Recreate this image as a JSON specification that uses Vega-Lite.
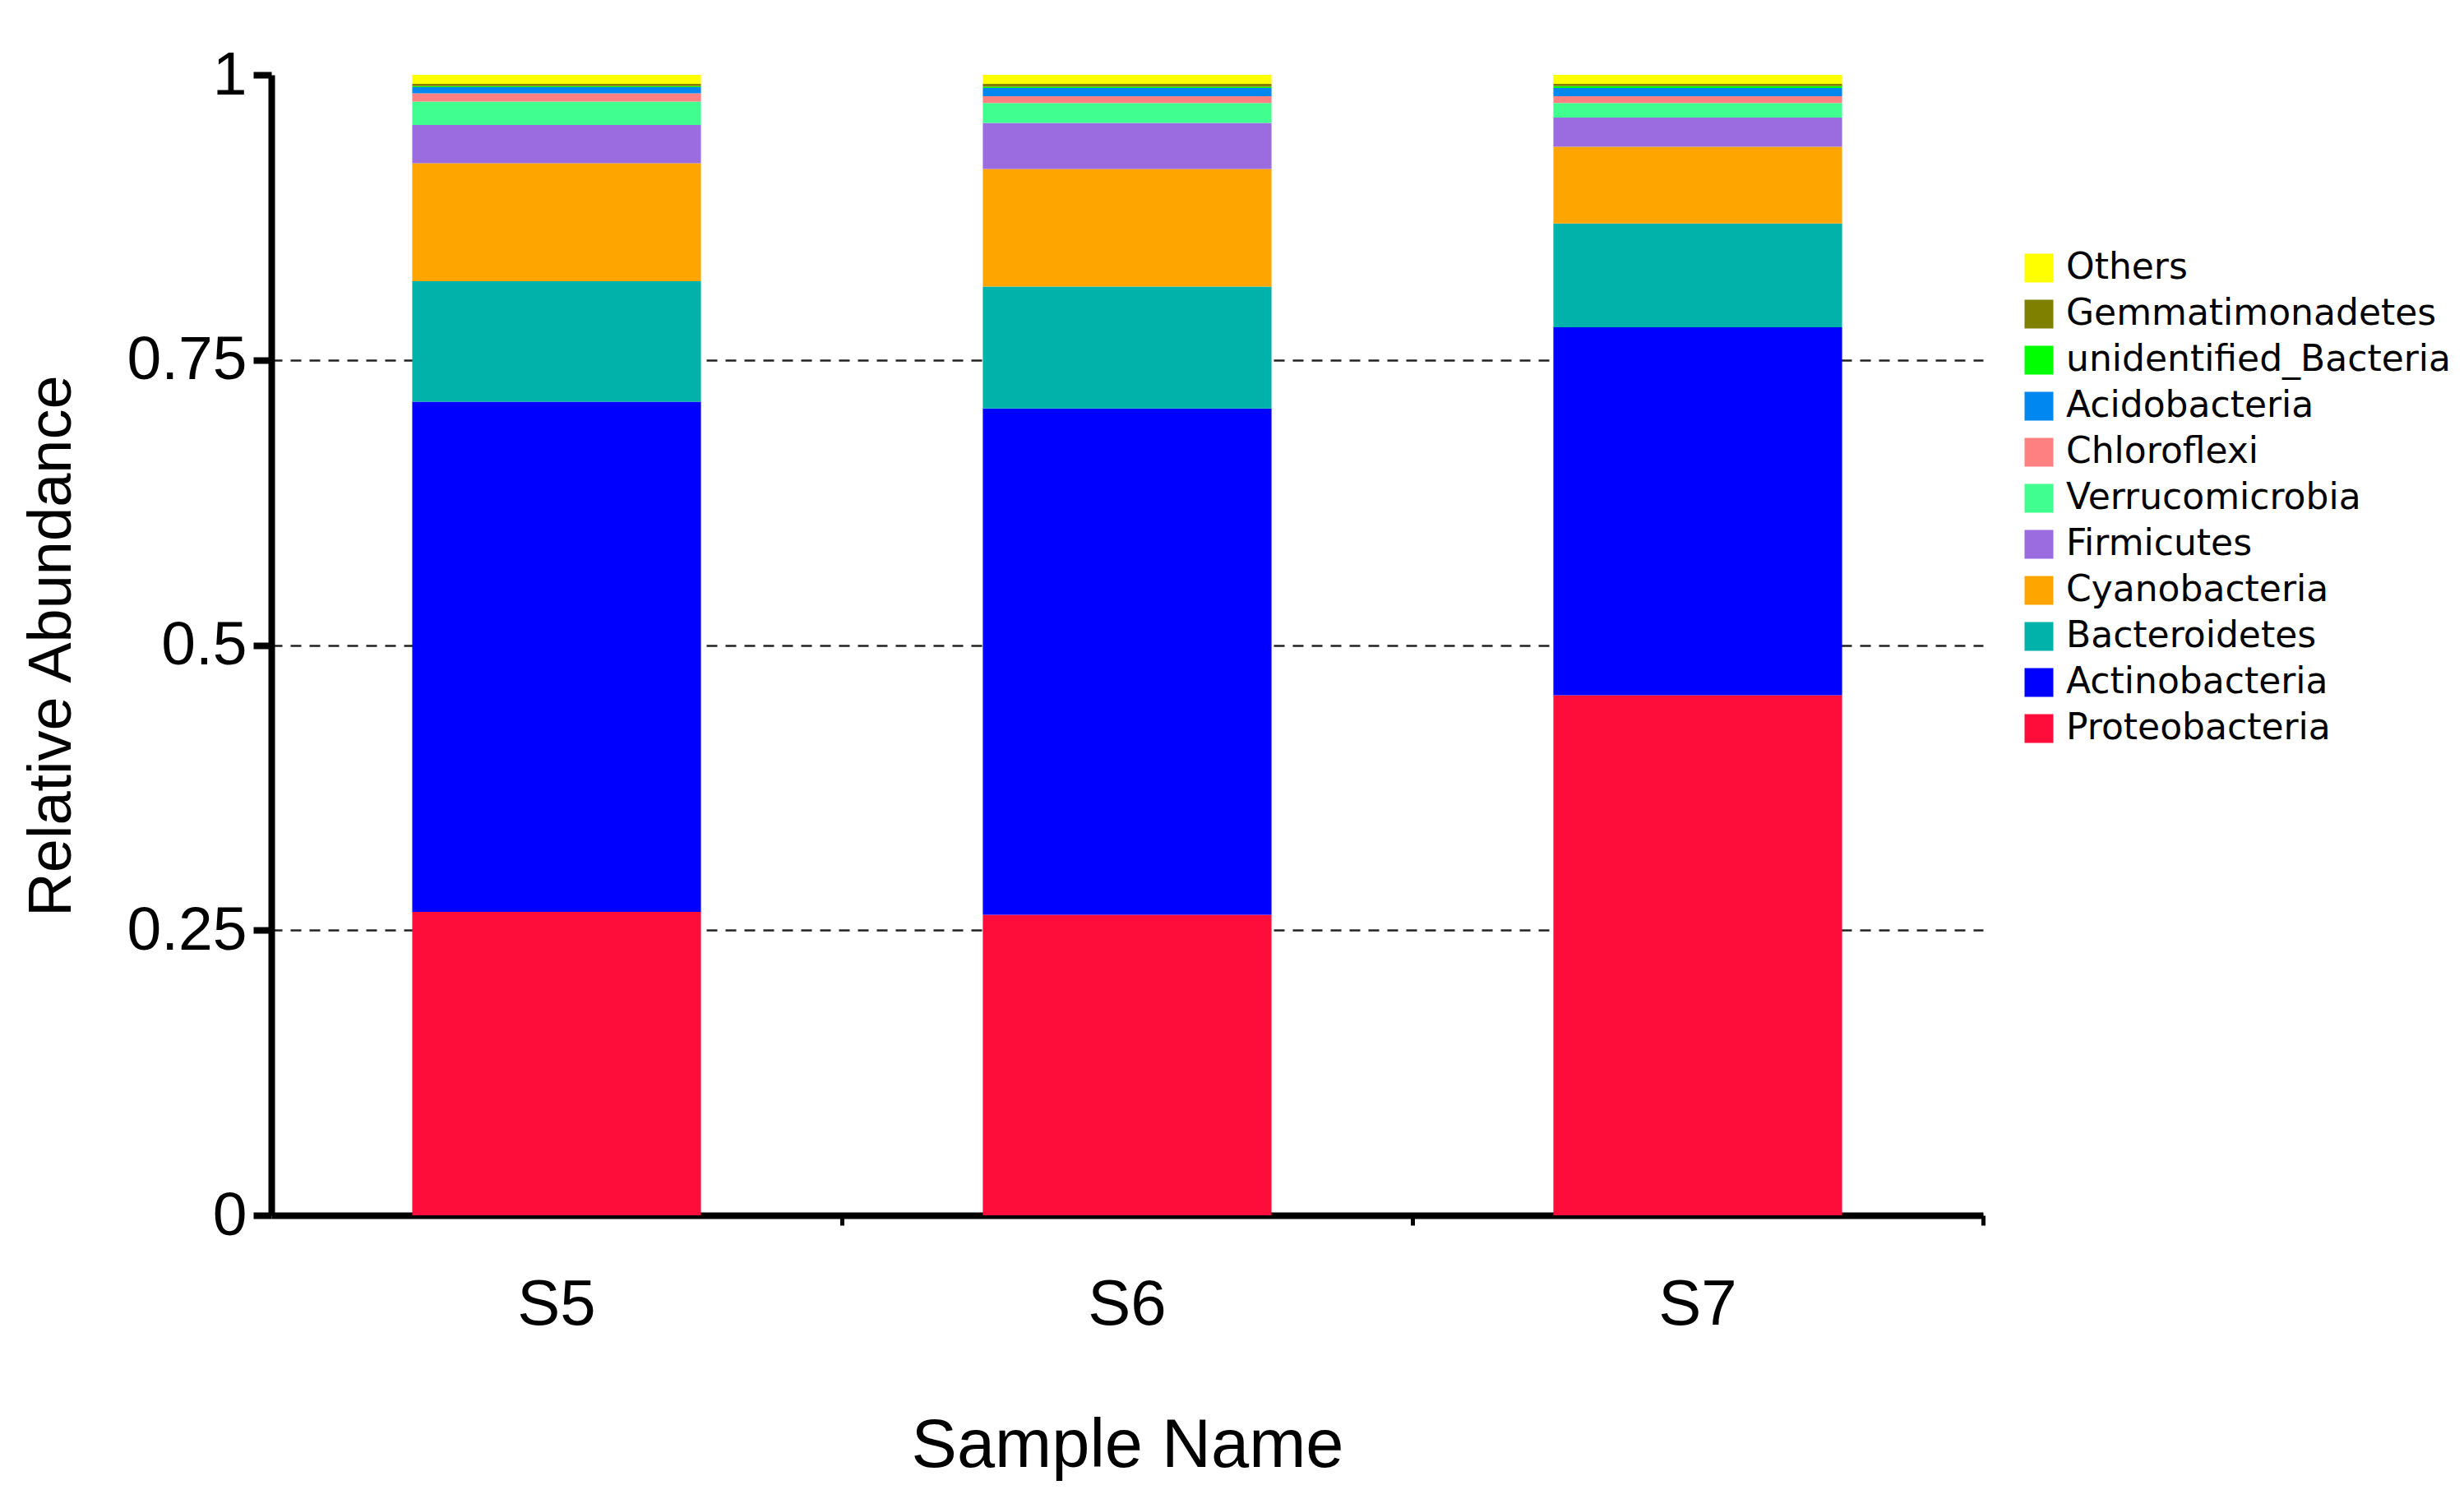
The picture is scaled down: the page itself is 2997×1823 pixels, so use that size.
{
  "$schema": "https://vega.github.io/schema/vega-lite/v6.json",
  "autosize": {"type": "none"},
  "padding": {"left": 330, "top": 91, "right": 585, "bottom": 345},
  "width": 2082,
  "height": 1387,
  "background": "white",
  "config": {"view": {"stroke": null}},
  "data": {"values": [
    {"sample": "S5", "phylum": "Proteobacteria", "k": 1, "abundance": 0.266},
    {"sample": "S5", "phylum": "Actinobacteria", "k": 2, "abundance": 0.4475},
    {"sample": "S5", "phylum": "Bacteroidetes", "k": 3, "abundance": 0.1056},
    {"sample": "S5", "phylum": "Cyanobacteria", "k": 4, "abundance": 0.1034},
    {"sample": "S5", "phylum": "Firmicutes", "k": 5, "abundance": 0.0335},
    {"sample": "S5", "phylum": "Verrucomicrobia", "k": 6, "abundance": 0.0205},
    {"sample": "S5", "phylum": "Chloroflexi", "k": 7, "abundance": 0.0072},
    {"sample": "S5", "phylum": "Acidobacteria", "k": 8, "abundance": 0.0055},
    {"sample": "S5", "phylum": "unidentified_Bacteria", "k": 9, "abundance": 0.0008},
    {"sample": "S5", "phylum": "Gemmatimonadetes", "k": 10, "abundance": 0.0021},
    {"sample": "S5", "phylum": "Others", "k": 11, "abundance": 0.0079},
    {"sample": "S6", "phylum": "Proteobacteria", "k": 1, "abundance": 0.2635},
    {"sample": "S6", "phylum": "Actinobacteria", "k": 2, "abundance": 0.4439},
    {"sample": "S6", "phylum": "Bacteroidetes", "k": 3, "abundance": 0.107},
    {"sample": "S6", "phylum": "Cyanobacteria", "k": 4, "abundance": 0.1031},
    {"sample": "S6", "phylum": "Firmicutes", "k": 5, "abundance": 0.0403},
    {"sample": "S6", "phylum": "Verrucomicrobia", "k": 6, "abundance": 0.0175},
    {"sample": "S6", "phylum": "Chloroflexi", "k": 7, "abundance": 0.006},
    {"sample": "S6", "phylum": "Acidobacteria", "k": 8, "abundance": 0.0072},
    {"sample": "S6", "phylum": "unidentified_Bacteria", "k": 9, "abundance": 0.001},
    {"sample": "S6", "phylum": "Gemmatimonadetes", "k": 10, "abundance": 0.0026},
    {"sample": "S6", "phylum": "Others", "k": 11, "abundance": 0.0079},
    {"sample": "S7", "phylum": "Proteobacteria", "k": 1, "abundance": 0.456},
    {"sample": "S7", "phylum": "Actinobacteria", "k": 2, "abundance": 0.3226},
    {"sample": "S7", "phylum": "Bacteroidetes", "k": 3, "abundance": 0.0911},
    {"sample": "S7", "phylum": "Cyanobacteria", "k": 4, "abundance": 0.0672},
    {"sample": "S7", "phylum": "Firmicutes", "k": 5, "abundance": 0.0256},
    {"sample": "S7", "phylum": "Verrucomicrobia", "k": 6, "abundance": 0.0128},
    {"sample": "S7", "phylum": "Chloroflexi", "k": 7, "abundance": 0.006},
    {"sample": "S7", "phylum": "Acidobacteria", "k": 8, "abundance": 0.0072},
    {"sample": "S7", "phylum": "unidentified_Bacteria", "k": 9, "abundance": 0.0016},
    {"sample": "S7", "phylum": "Gemmatimonadetes", "k": 10, "abundance": 0.002},
    {"sample": "S7", "phylum": "Others", "k": 11, "abundance": 0.0079}
  ]},
  "mark": {"type": "bar", "width": {"band": 0.506}, "stroke": null},
  "encoding": {
    "x": {
      "field": "sample", "type": "nominal",
      "scale": {"paddingInner": 0, "paddingOuter": 0},
      "axis": {
        "title": "Sample Name",
        "labelAngle": 0,
        "labelFont": "Liberation Sans", "labelFontSize": 78, "labelColor": "#000",
        "labelPadding": 58, "labelBaseline": "top",
        "titleFont": "Liberation Sans", "titleFontSize": 83, "titleFontWeight": "normal", "titleColor": "#000",
        "titleY": 305, "titleBaseline": "alphabetic",
        "domainColor": "#000", "domainWidth": 8,
        "tickColor": "#000", "tickWidth": 5, "tickSize": 12, "bandPosition": 1,
        "grid": false
      }
    },
    "y": {
      "field": "abundance", "type": "quantitative", "stack": "zero",
      "scale": {"domain": [0, 1], "nice": false},
      "axis": {
        "title": "Relative Abundance",
        "values": [0, 0.25, 0.5, 0.75, 1],
        "format": ".2~f",
        "labelFont": "Liberation Sans", "labelFontSize": 75, "labelColor": "#000", "labelPadding": 8,
        "titleFont": "Liberation Sans", "titleFontSize": 74, "titleFontWeight": "normal", "titleColor": "#000",
        "titleX": -245, "titleY": 694, "titleBaseline": "alphabetic", "titleAngle": -90,
        "domainColor": "#000", "domainWidth": 8,
        "tickColor": "#000", "tickWidth": 8, "tickSize": 22,
        "grid": true, "gridColor": "#222", "gridWidth": 2.5, "gridDash": [13, 10],
        "gridOpacity": {"condition": {"test": "datum.value == 0 || datum.value == 1", "value": 0}, "value": 1}
      }
    },
    "color": {
      "field": "phylum", "type": "nominal",
      "scale": {
        "domain": ["Others", "Gemmatimonadetes", "unidentified_Bacteria", "Acidobacteria", "Chloroflexi", "Verrucomicrobia", "Firmicutes", "Cyanobacteria", "Bacteroidetes", "Actinobacteria", "Proteobacteria"],
        "range": ["#FFFF00", "#808000", "#00FF00", "#0088F0", "#FF8080", "#40FF90", "#9B6BE0", "#FFA500", "#00B2A9", "#0000FF", "#FF0D3A"]
      },
      "legend": {
        "title": null,
        "orient": "none", "legendX": 2128, "legendY": 213,
        "padding": 0,
        "symbolType": "square", "symbolSize": 1225, "symbolStrokeWidth": 0, "symbolOpacity": 1,
        "labelFont": "DejaVu Sans", "labelFontSize": 44, "labelColor": "#000", "labelOffset": 11,
        "labelLimit": 800,
        "rowPadding": 12
      }
    },
    "order": {"field": "k", "type": "quantitative", "sort": "ascending"}
  }
}
